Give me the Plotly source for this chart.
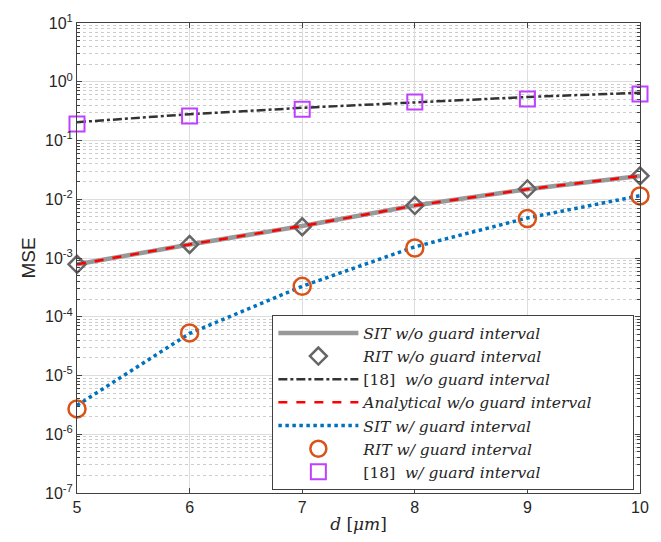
import plotly.graph_objects as go

d = [5, 6, 7, 8, 9, 10]
sit_wo = [7.8e-4, 1.7e-3, 3.5e-3, 7.8e-3, 1.48e-2, 2.5e-2]
rit_wo = [7.8e-4, 1.7e-3, 3.4e-3, 7.8e-3, 1.5e-2, 2.5e-2]
ref18_wo = [0.205, 0.28, 0.36, 0.45, 0.55, 0.65]
analytical_wo = [7.8e-4, 1.7e-3, 3.5e-3, 7.8e-3, 1.48e-2, 2.5e-2]
sit_w = [3.1e-6, 5.2e-5, 3.3e-4, 1.55e-3, 4.8e-3, 1.15e-2]
rit_w = [2.7e-6, 5.3e-5, 3.3e-4, 1.48e-3, 4.7e-3, 1.14e-2]
ref18_w = [0.19, 0.26, 0.34, 0.45, 0.51, 0.62]

y_exponents = [-7, -6, -5, -4, -3, -2, -1, 0, 1]
y_tickvals = [10.0 ** e for e in y_exponents]
y_ticktext = ["10<sup>%d</sup>" % e for e in y_exponents]
x_ticks = [5, 6, 7, 8, 9, 10]

NB = "\u00a0"
fig = go.Figure()
fig.add_trace(go.Scatter(x=d, y=sit_wo, mode="lines", name="<i>SIT w/o guard interval</i>",
                         line=dict(color="#999999", width=4.5), cliponaxis=False))
fig.add_trace(go.Scatter(x=d, y=rit_wo, mode="markers", name="<i>RIT w/o guard interval</i>",
                         marker=dict(symbol="diamond-open", size=13, color="#666666",
                                     line=dict(width=2.5, color="#666666")), cliponaxis=False))
fig.add_trace(go.Scatter(x=d, y=ref18_wo, mode="lines", name="[18]  <i>w/o guard interval</i>",
                         line=dict(color="#333333", width=2.5, dash="dashdot"), cliponaxis=False))
fig.add_trace(go.Scatter(x=d, y=analytical_wo, mode="lines",
                         name="<i>Analytical w/o guard interval</i>" + NB * 7,
                         line=dict(color="#FF0000", width=2.5, dash="dash"), cliponaxis=False))
fig.add_trace(go.Scatter(x=d, y=sit_w, mode="lines", name="<i>SIT w/ guard interval</i>",
                         line=dict(color="#0072BD", width=3.5, dash="dot"), cliponaxis=False))
fig.add_trace(go.Scatter(x=d, y=rit_w, mode="markers", name="<i>RIT w/ guard interval</i>",
                         marker=dict(symbol="circle-open", size=17, color="#D95319",
                                     line=dict(width=2.5, color="#D95319")), cliponaxis=False))
fig.add_trace(go.Scatter(x=d, y=ref18_w, mode="markers", name="[18]  <i>w/ guard interval</i>",
                         marker=dict(symbol="square-open", size=15, color="#BF40FF",
                                     line=dict(width=2, color="#BF40FF")), cliponaxis=False))

fig.update_layout(
    width=661, height=542,
    margin=dict(l=77, r=18, t=16, b=45),
    paper_bgcolor="white", plot_bgcolor="white",
    font=dict(family="Liberation Sans, Arial", size=16, color="#262626"),
    showlegend=True,
    legend=dict(x=0.347, y=0.378, xanchor="left", yanchor="top",
                bgcolor="white", bordercolor="#404040", borderwidth=1,
                font=dict(family="DejaVu Serif", size=15.5, color="#262626"),
                itemwidth=80, tracegroupgap=0),
)
fig.update_xaxes(
    range=[5, 10], tickvals=x_ticks, ticks="inside", ticklen=5,
    showline=True, linecolor="#404040", linewidth=1, mirror="ticks",
    showgrid=True, gridcolor="#DDDDDD", gridwidth=1, zeroline=False,
    title=dict(text="<i>d</i> [<i>μm</i>]", font=dict(family="DejaVu Serif", size=17),
               standoff=2),
    tickfont=dict(size=16),
)
fig.update_yaxes(
    type="log", range=[-7, 1], tickvals=y_tickvals, ticktext=y_ticktext,
    ticks="inside", ticklen=5,
    showline=True, linecolor="#404040", linewidth=1, mirror="ticks",
    showgrid=True, gridcolor="#DDDDDD", gridwidth=1, zeroline=False,
    minor=dict(dtick="D1", showgrid=True, gridcolor="#CCCCCC", griddash="dot", gridwidth=1,
               ticks="inside", ticklen=3, tickcolor="#404040"),
    title=dict(text="MSE", font=dict(size=19), standoff=4),
    tickfont=dict(size=16),
)
fig.write_html("out.html")
